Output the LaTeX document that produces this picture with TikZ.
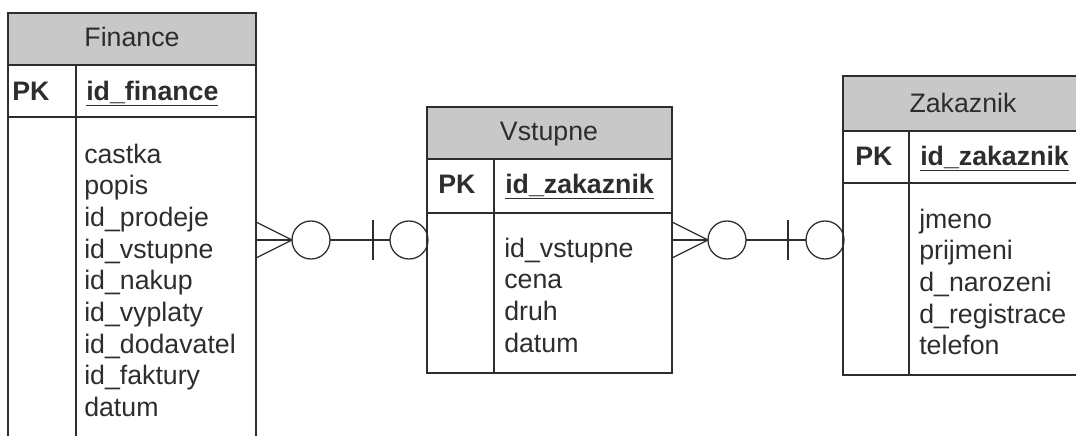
\documentclass[tikz,border=0pt]{standalone}
\usepackage{fontspec}
\setmainfont{Liberation Sans}
\usetikzlibrary{calc}

\definecolor{hdrgray}{RGB}{200,200,200}
\definecolor{inkgray}{RGB}{45,45,45}

\tikzset{
    frame/.style={draw=inkgray, line width=1.2pt},
    link/.style={draw=inkgray, line width=0.9pt},
    ring/.style={circle, draw=inkgray, line width=0.9pt, minimum size=0.95cm, inner sep=0pt, outer sep=0pt},
    title/.style={anchor=base, inner sep=0pt},
    pk/.style={anchor=base west, inner sep=0pt, font=\fontsize{19}{22}\selectfont\bfseries},
    key/.style={anchor=base west, inner sep=0pt, font=\fontsize{19}{22}\selectfont\bfseries},
    field/.style={anchor=base west, inner sep=0pt}
}

\begin{document}
\begin{tikzpicture}[x=0.025cm, y=-0.025cm, font=\fontsize{19}{22}\selectfont, text=inkgray]
        \useasboundingbox (0,0) rectangle (1076,435);
        \clip (0,0) rectangle (1076,435);

        % Finance table
        \fill[hdrgray] (8,13) rectangle (256,65);
        \draw[frame] (8,450) -- (8,13) -- (256,13) -- (256,450);
        \draw[frame] (8,65) -- (256,65) (8,117) -- (256,117) (76,65) -- (76,450);
        \node[title] (fin) at (132,46) {Finance};
        \node[pk] (fin-pk) at (12,100) {PK};
        \node[key] (fin-key) at (86,100) {\underline{id\_finance}};
        \foreach \f [count=\i] in {castka, popis, id\_prodeje, id\_vstupne, id\_nakup,
                id\_vyplaty, id\_dodavatel, id\_faktury, datum}
            \node[field] (fin-\i) at (84,163+31.7*\i-31.7) {\f};

        % Vstupne table
        \fill[hdrgray] (427,107) rectangle (672,159);
        \draw[frame] (427,107) rectangle (672,373);
        \draw[frame] (427,159) -- (672,159) (427,213) -- (672,213) (494,159) -- (494,373);
        \node[title] (vst) at (549,140) {Vstupne};
        \node[pk] (vst-pk) at (438,193) {PK};
        \node[key] (vst-key) at (505,193) {\underline{id\_zakaznik}};
        \foreach \f [count=\i] in {id\_vstupne, cena, druh, datum}
            \node[field] (vst-\i) at (504,257+31.7*\i-31.7) {\f};

        % Zakaznik table
        \fill[hdrgray] (843,76) rectangle (1083,131);
        \draw[frame] (843,76) rectangle (1083,375);
        \draw[frame] (843,131) -- (1083,131) (843,183) -- (1083,183) (909,131) -- (909,375);
        \node[title] (zak) at (963,112) {Zakaznik};
        \node[pk] (zak-pk) at (855,165) {PK};
        \node[key] (zak-key) at (920,165) {\underline{id\_zakaznik}};
        \foreach \f [count=\i] in {jmeno, prijmeni, d\_narozeni, d\_registrace, telefon}
            \node[field] (zak-\i) at (919,228+31.7*\i-31.7) {\f};

        % Finance -- Vstupne
        \coordinate (fin-e) at (256,240);
        \coordinate (bar-a) at (373,240);
        \node[ring] (ra1) at (311,240) {};
        \node[ring] (ra2) at (409,240) {};
        \draw[link] ($(fin-e)+(0,-18)$) -- (ra1.west) -- ($(fin-e)+(0,18)$);
        \draw[link] (fin-e) -- (ra1.west);
        \draw[link] (ra1.east) -- (ra2.west);
        \draw[link] ($(bar-a)+(0,-20)$) -- ($(bar-a)+(0,20)$);

        % Vstupne -- Zakaznik
        \coordinate (vst-e) at (672,240);
        \coordinate (bar-b) at (788,240);
        \node[ring] (rb1) at (727,240) {};
        \node[ring] (rb2) at (825,240) {};
        \draw[link] ($(vst-e)+(0,-18)$) -- (rb1.west) -- ($(vst-e)+(0,18)$);
        \draw[link] (vst-e) -- (rb1.west);
        \draw[link] (rb1.east) -- (rb2.west);
        \draw[link] ($(bar-b)+(0,-20)$) -- ($(bar-b)+(0,20)$);

    \end{tikzpicture}
\end{document}
